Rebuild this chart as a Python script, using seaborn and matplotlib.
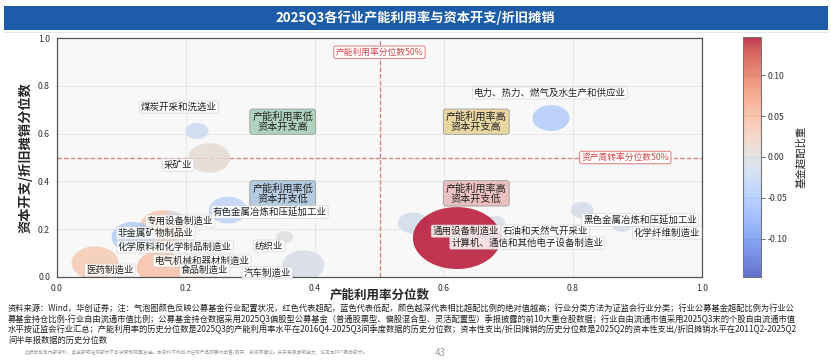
import numpy as np
import pandas as pd
import matplotlib
matplotlib.use("Agg")
import matplotlib.pyplot as plt
import seaborn as sns
from matplotlib.path import Path
from matplotlib.patches import Rectangle
from matplotlib.colors import Normalize
from matplotlib.cm import ScalarMappable

# ----------------------------------------------------------------------
# data
# ----------------------------------------------------------------------
industries = [
    "煤炭开采和洗选业", "采矿业", "电力、热力、燃气及水生产和供应业",
    "有色金属冶炼和压延加工业", "化学原料和化学制品制造业", "专用设备制造业",
    "非金属矿物制品业", "电气机械和器材制造业", "食品制造业", "医药制造业",
    "纺织业", "汽车制造业", "通用设备制造业", "石油和天然气开采业",
    "黑色金属冶炼和压延加工业", "化学纤维制造业", "计算机、通信和其他电子设备制造业",
]
capacity_pct = [0.217, 0.236, 0.766, 0.265, 0.165, 0.180, 0.118, 0.160, 0.205,
                0.059, 0.353, 0.382, 0.552, 0.679, 0.814, 0.876, 0.620]
capex_pct = [0.611, 0.498, 0.665, 0.280, 0.210, 0.245, 0.167, 0.040, 0.020,
             0.059, 0.167, 0.050, 0.226, 0.226, 0.280, 0.218, 0.163]
overweight = [-0.020, 0.010, -0.045, -0.035, 0.040, -0.005, -0.045, 0.045, 0.035,
              0.035, 0.000, -0.010, -0.015, -0.010, -0.012, -0.012, 0.147]
bubble_size = [274, 914, 710, 748, 1145, 207, 958, 1145, 467, 1145,
               150, 914, 467, 207, 274, 207, 4014]

# where each industry name sits
label_pos = {
    "煤炭开采和洗选业": (0.189, 0.711),
    "采矿业": (0.188, 0.469),
    "电力、热力、燃气及水生产和供应业": (0.764, 0.770),
    "有色金属冶炼和压延加工业": (0.330, 0.272),
    "专用设备制造业": (0.191, 0.234),
    "非金属矿物制品业": (0.153, 0.184),
    "化学原料和化学制品制造业": (0.183, 0.126),
    "电气机械和器材制造业": (0.225, 0.067),
    "食品制造业": (0.229, 0.029),
    "医药制造业": (0.082, 0.029),
    "纺织业": (0.329, 0.130),
    "汽车制造业": (0.326, 0.017),
    "通用设备制造业": (0.634, 0.192),
    "计算机、通信和其他电子设备制造业": (0.729, 0.142),
    "石油和天然气开采业": (0.757, 0.192),
    "黑色金属冶炼和压延加工业": (0.904, 0.238),
    "化学纤维制造业": (0.946, 0.184),
}

quadrants = [
    ("产能利用率低\n资本开支高", 0.35, 0.65, "#b0d3c0"),
    ("产能利用率高\n资本开支高", 0.65, 0.65, "#e9d7a2"),
    ("产能利用率低\n资本开支低", 0.35, 0.35, "#b5cbe1"),
    ("产能利用率高\n资本开支低", 0.65, 0.35, "#eac0c0"),
]

title = "2025Q3各行业产能利用率与资本开支/折旧摊销"
note_lines = [
    "资料来源：Wind，华创证券；注：气泡图颜色反映公募基金行业配置状况，红色代表超配，蓝色代表低配，颜色越深代表相比超配比例的绝对值越高；行业分类方法为证监会行业分类；行业公募基金超配比例为行业公",
    "募基金持仓比例-行业自由流通市值比例；公募基金持仓数据采用2025Q3偏股型公募基金（普通股票型、偏股混合型、灵活配置型）季报披露的前10大重仓股数据；行业自由流通市值采用2025Q3末的个股自由流通市值",
    "水平按证监会行业汇总；产能利用率的历史分位数是2025Q3的产能利用率水平在2016Q4-2025Q3间季度数据的历史分位数；资本性支出/折旧摊销的历史分位数是2025Q2的资本性支出/折旧摊销水平在2011Q2-2025Q2",
    "间半年报数据的历史分位数",
]
disclaimer = "此报告包含内部资料，其全部或任何部分不可被复制或再发送。本资料不构成对任何产品的要约出售/购买、投资或建议。关于免责声明全文，详见本PPT最后部分。"

df = pd.DataFrame({
    "industry": industries,
    "x": capacity_pct,
    "y": capex_pct,
    "over": overweight,
    "size": bubble_size,
})

# ----------------------------------------------------------------------
# style
# ----------------------------------------------------------------------
sns.set_style("whitegrid")
plt.rcParams["font.family"] = ["Noto Sans CJK SC", "DejaVu Sans"]
plt.rcParams["axes.unicode_minus"] = True

vlim = 0.147
norm = Normalize(-vlim, vlim)

# the slide squashes the bubbles into ellipses
t = np.linspace(0, 2 * np.pi, 73)
ellipse = Path(np.column_stack([1.42 * np.cos(t), np.sin(t)]), closed=True)

fig = plt.figure(figsize=(8.31, 3.63), dpi=100)
fig.patch.set_facecolor("white")

# title banner
fig.patches.append(Rectangle((4 / 831, 1 - 30 / 363), 824 / 831, 24 / 363,
                             transform=fig.transFigure, fc="#1d5ca8", ec="none"))
fig.patches.append(Rectangle((4 / 831, 1 - 33 / 363), 824 / 831, 1.5 / 363,
                             transform=fig.transFigure, fc="#dfe8f4", ec="none"))
fig.text(0.5, 1 - 18 / 363, title, color="white", fontsize=9.5,
         fontweight="bold", ha="center", va="center")

ax = fig.add_axes([57 / 831, 1 - 277 / 363, 645 / 831, 239 / 363])
ax.set_facecolor("#f8f8f8")

sns.scatterplot(
    data=df, x="x", y="y", hue="over", size="size",
    palette="coolwarm", hue_norm=norm,
    sizes=(min(bubble_size), max(bubble_size)),
    size_norm=(min(bubble_size), max(bubble_size)),
    marker=ellipse, alpha=0.8, edgecolor="none", linewidth=0,
    legend=False, ax=ax, zorder=2,
)

# 50% reference lines
ax.axvline(0.5, color="#e07a7a", ls="--", lw=0.9, zorder=1)
ax.axhline(0.5, color="#e07a7a", ls="--", lw=0.9, zorder=1)
ref_box = dict(boxstyle="round,pad=0.2", fc="white", ec="#e07a7a", lw=0.7)
ax.text(0.5, 0.94, "产能利用率分位数50%", color="#d24a4a", fontsize=6.3,
        ha="center", va="center", bbox=ref_box, zorder=4)
ax.text(0.881, 0.5, "资产周转率分位数50%", color="#d24a4a", fontsize=6.3,
        ha="center", va="center", bbox=ref_box, zorder=4)

for txt, qx, qy, fc in quadrants:
    ax.text(qx, qy, txt, fontsize=7.3, ha="center", va="center",
            linespacing=1.0, color="#222222", zorder=4,
            bbox=dict(boxstyle="round,pad=0.25", fc=fc, ec="#9a9a9a", lw=0.6))

for name in industries:
    lx, ly = label_pos[name]
    ax.text(lx, ly, name, fontsize=6.8, ha="center", va="center",
            color="#222222", zorder=5,
            bbox=dict(boxstyle="round,pad=0.15", fc="white", ec="#d0d0d0",
                      lw=0.5, alpha=0.85))

ax.set_xlim(0, 1)
ax.set_ylim(0, 1)
ax.set_xticks(np.arange(0, 1.01, 0.2))
ax.set_yticks(np.arange(0, 1.01, 0.2))
ax.xaxis.set_major_formatter(plt.FormatStrFormatter("%.1f"))
ax.yaxis.set_major_formatter(plt.FormatStrFormatter("%.1f"))
ax.tick_params(labelsize=6.3, length=3, width=0.7, color="#555555",
               labelcolor="#333333", pad=2)
ax.grid(True, color="#e4e4e4", lw=0.6)
for sp in ax.spines.values():
    sp.set_color("#555555")
    sp.set_linewidth(0.9)
ax.set_xlabel("产能利用率分位数", fontsize=9, fontweight="bold", labelpad=-3)
ax.set_ylabel("资本开支/折旧摊销分位数", fontsize=9.5, fontweight="bold", labelpad=4)

# colour bar
cax = fig.add_axes([743 / 831, 1 - 277 / 363, 18 / 831, 240 / 363])
sm = ScalarMappable(norm=norm, cmap="coolwarm")
cbar = fig.colorbar(sm, cax=cax, alpha=0.8)
cbar.set_ticks([-0.10, -0.05, 0.0, 0.05, 0.10])
cbar.ax.yaxis.set_major_formatter(plt.FormatStrFormatter("%.2f"))
cbar.ax.tick_params(labelsize=6.3, length=3, width=0.6, color="#555555",
                    labelcolor="#333333", pad=2)
cbar.outline.set_edgecolor("#777777")
cbar.outline.set_linewidth(0.8)
cbar.set_label("基金超配比重", fontsize=7.5, labelpad=6)

# footnote
for i, line in enumerate(note_lines):
    fig.text(8 / 831, 1 - (308.5 + i * 10.5) / 363, line, fontsize=5.95,
             ha="left", va="center", color="#222222")
fig.text(25 / 831, 1 - 352 / 363, disclaimer, fontsize=3.4, ha="left",
         va="center", color="#9a9a9a")
fig.text(440 / 831, 1 - 353 / 363, "43", fontsize=7, ha="center",
         va="center", color="#9a9a9a")

fig.savefig("out.png", dpi=100)
